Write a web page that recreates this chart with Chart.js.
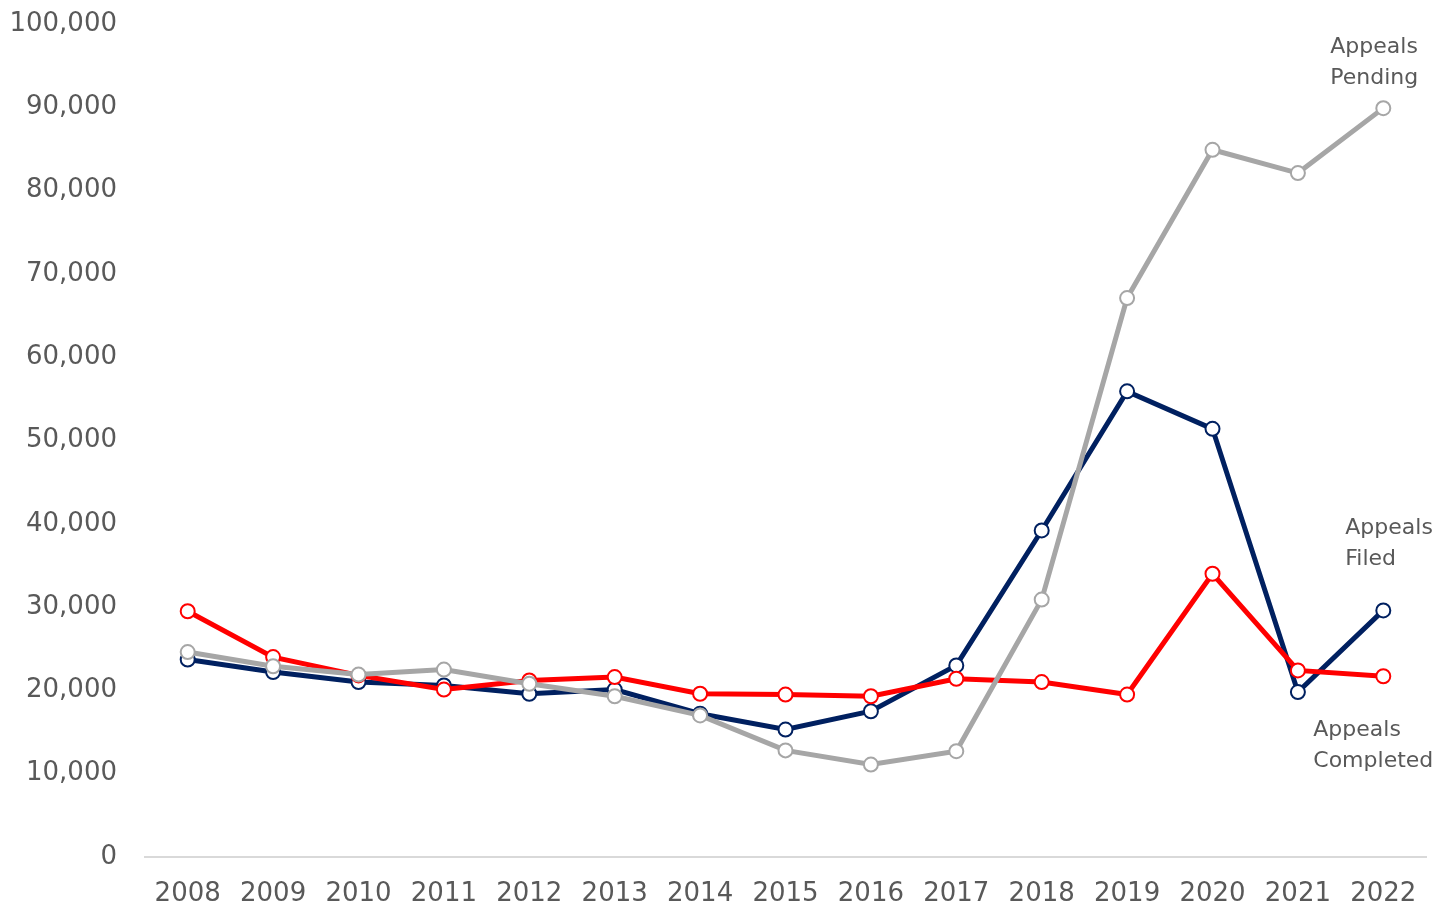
<!DOCTYPE html>
<html>
<head>
<meta charset="utf-8">
<script src="https://cdn.jsdelivr.net/npm/chart.js@4/dist/chart.umd.min.js"></script>
<style>
html,body{margin:0;padding:0;background:#fff;}
#wrap{width:1452px;height:907px;position:relative;}
</style>
</head>
<body>
<div id="wrap"><canvas id="c" width="1452" height="907"></canvas></div>
<script>
const years = ["2008","2009","2010","2011","2012","2013","2014","2015","2016","2017","2018","2019","2020","2021","2022"];
const appealsFiled = [23700,22200,21000,20600,19600,20100,17200,15300,17500,23000,39200,55900,51400,19800,29600];
const appealsCompleted = [29500,24000,21800,20100,21200,21600,19600,19500,19300,21400,21000,19500,34000,22400,21700];
const appealsPending = [24600,22900,21900,22500,20800,19300,17000,12800,11100,12700,30900,67100,84900,82100,89900];
const yTicks = [0,10000,20000,30000,40000,50000,60000,70000,80000,90000,100000];
const seriesNames = ["Appeals Filed","Appeals Completed","Appeals Pending"];
const seriesLabelLines = [["Appeals","Filed"],["Appeals","Completed"],["Appeals","Pending"]];

const FONT = "DejaVu Sans";
const colors = ["#002060","#ff0000","#a6a6a6"];

function ds(label, data, color, order){
  return {
    label, data, order,
    borderColor: color, backgroundColor: "#ffffff",
    borderWidth: 5,
    pointRadius: 7, pointHoverRadius: 7,
    pointBorderWidth: 2, pointBorderColor: color, pointBackgroundColor: "#ffffff",
    tension: 0, clip: false
  };
}

const labelPlugin = {
  id: "seriesLabels",
  afterDatasetsDraw(chart){
    const ctx = chart.ctx;
    const x = chart.scales.x, y = chart.scales.y;
    const last = years.length - 1;
    const px = x.getPixelForValue(last);
    // [dx from last category, yValue of first line]
    const place = [[-38, 39500],[-70, 15200],[-53, 97200]];
    ctx.save();
    ctx.font = "22px '" + FONT + "'";
    ctx.fillStyle = "#595959";
    ctx.textAlign = "left";
    ctx.textBaseline = "middle";
    seriesLabelLines.forEach((lines, i) => {
      const lx = px + place[i][0];
      const ly = y.getPixelForValue(place[i][1]);
      lines.forEach((t, j) => ctx.fillText(t, lx, ly + j * 31));
    });
    ctx.restore();
  }
};

new Chart(document.getElementById("c"), {
  type: "line",
  data: {
    labels: years,
    datasets: [
      ds(seriesNames[0], appealsFiled, colors[0], 2),
      ds(seriesNames[1], appealsCompleted, colors[1], 1),
      ds(seriesNames[2], appealsPending, colors[2], 0)
    ]
  },
  options: {
    responsive: false,
    animation: false,
    events: [],
    layout: { padding: { top: 24, right: 26, left: 0, bottom: 0 } },
    plugins: { legend: { display: false }, tooltip: { enabled: false } },
    scales: {
      x: {
        offset: true,
        afterFit(s){ s.height = 50; s.paddingLeft = 0; s.paddingRight = 0; },
        grid: { display: false, drawTicks: false },
        border: { display: true, color: "#d9d9d9", width: 2 },
        ticks: { color: "#595959", font: { family: FONT, size: 26 }, padding: 22, maxRotation: 0, autoSkip: false }
      },
      y: {
        min: 0, max: 100000,
        afterBuildTicks(s){ s.ticks = yTicks.map(v => ({ value: v })); },
        afterFit(s){ s.width = 145; s.paddingTop = 0; s.paddingBottom = 0; },
        grid: { display: false, drawTicks: false },
        border: { display: false },
        ticks: {
          color: "#595959", font: { family: FONT, size: 26 }, padding: 28,
          callback: v => Number(v).toLocaleString("en-US")
        }
      }
    }
  },
  plugins: [labelPlugin]
});
</script>
</body>
</html>
